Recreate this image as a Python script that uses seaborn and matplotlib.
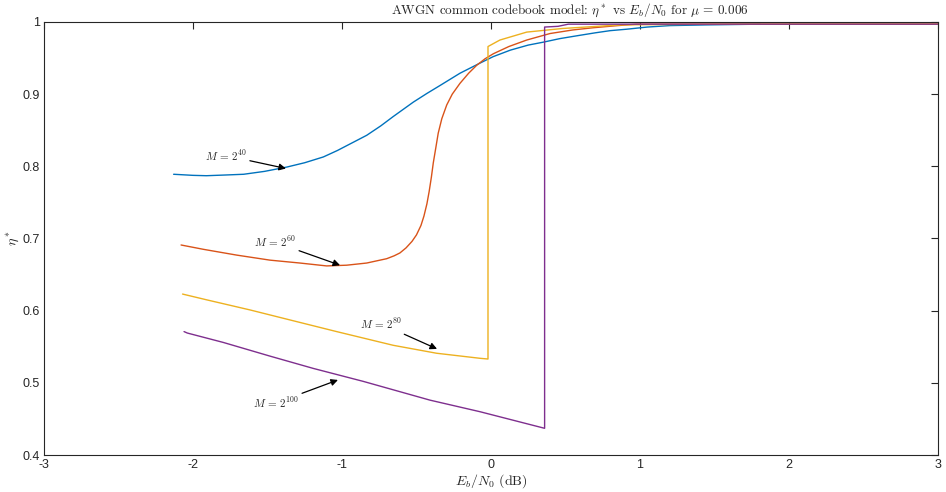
import matplotlib
matplotlib.use("Agg")
import matplotlib.pyplot as plt
import seaborn as sns
import pandas as pd

sns.set_style("white")
plt.rcParams['font.family'] = ['Liberation Sans', 'DejaVu Sans']
plt.rcParams['mathtext.fontset'] = 'cm'

# M = 2^40 (blue)
x40 = [-2.13, -2.0, -1.91, -1.78, -1.66, -1.52, -1.37, -1.25, -1.125, -1.03, -0.946,
       -0.834, -0.74, -0.656, -0.521, -0.43, -0.342, -0.208, -0.074, 0.015, 0.13,
       0.25, 0.35, 0.463, 0.58, 0.7, 0.8, 0.911, 1.05, 1.2, 1.447, 1.805]
y40 = [0.789, 0.7875, 0.787, 0.788, 0.789, 0.793, 0.799, 0.805, 0.813, 0.822, 0.831,
       0.843, 0.856, 0.869, 0.889, 0.901, 0.912, 0.929, 0.943, 0.952, 0.961,
       0.968, 0.972, 0.977, 0.981, 0.985, 0.988, 0.990, 0.993, 0.995, 0.996, 0.997]

# M = 2^60 (red)
x60 = [-2.08, -1.93, -1.707, -1.483, -1.282, -1.103, -0.969, -0.834, -0.745, -0.70,
       -0.65, -0.611, -0.57, -0.53, -0.50, -0.47, -0.45, -0.43, -0.415, -0.40,
       -0.387, -0.37, -0.354, -0.33, -0.297, -0.26, -0.208, -0.15, -0.096, -0.04,
       0.016, 0.12, 0.24, 0.396, 0.55, 0.685, 0.85, 0.978, 1.5, 2.0, 3.0]
y60 = [0.691, 0.685, 0.677, 0.670, 0.666, 0.662, 0.663, 0.666, 0.670, 0.672,
       0.676, 0.680, 0.687, 0.696, 0.705, 0.718, 0.731, 0.748, 0.765, 0.785,
       0.805, 0.826, 0.846, 0.866, 0.885, 0.900, 0.915, 0.929, 0.940, 0.949,
       0.956, 0.966, 0.975, 0.984, 0.989, 0.992, 0.995, 0.997, 0.997, 0.997, 0.997]

# M = 2^80 (yellow)
x80 = [-2.07, -1.908, -1.617, -1.327, -1.036, -0.656, -0.365, -0.074, -0.02,
       -0.02, 0.06, 0.24, 0.48, 0.87, 1.5, 3.0]
y80 = [0.623, 0.615, 0.601, 0.586, 0.571, 0.552, 0.541, 0.534, 0.533,
       0.966, 0.975, 0.986, 0.991, 0.996, 0.997, 0.997]

# M = 2^100 (purple)
x100 = [-2.06, -2.038, -1.797, -1.483, -1.193, -0.857, -0.409, -0.074, 0.36,
        0.36, 0.45, 0.52, 1.0, 3.0]
y100 = [0.571, 0.569, 0.556, 0.537, 0.520, 0.502, 0.476, 0.460, 0.437,
        0.993, 0.994, 0.997, 0.997, 0.997]

labels = [r"$M\,=\,2^{40}$", r"$M\,=\,2^{60}$", r"$M\,=\,2^{80}$", r"$M\,=\,2^{100}$"]
colors = ["#0072BD", "#D95319", "#EDB120", "#7E2F8E"]
# annotation (text anchor, arrow head) in data coords
ann_text = [(-1.64, 0.815), (-1.31, 0.695), (-0.60, 0.582), (-1.29, 0.472)]
ann_head = [(-1.376, 0.797), (-1.013, 0.663), (-0.362, 0.547), (-1.027, 0.504)]

series = [(x40, y40), (x60, y60), (x80, y80), (x100, y100)]

fig = plt.figure(figsize=(9.46, 4.92), dpi=100)
ax = fig.add_axes([0.0465, 0.0752, 0.945, 0.8801])

for (xs, ys), c in zip(series, colors):
    df = pd.DataFrame({"x": xs, "y": ys})
    sns.lineplot(data=df, x="x", y="y", ax=ax, color=c, sort=False,
                 estimator=None, linewidth=1.0)

for lab, (tx, ty), (hx, hy) in zip(labels, ann_text, ann_head):
    ax.annotate(lab, xy=(hx, hy), xytext=(tx, ty), fontsize=8, ha='right', va='center',
                color='#262626',
                arrowprops=dict(arrowstyle='-|>', color='black', lw=0.9,
                                mutation_scale=10, shrinkA=0, shrinkB=0))

ax.set_xlim(-3, 3)
ax.set_ylim(0.4, 1.0)
ax.set_xticks([-3, -2, -1, 0, 1, 2, 3])
ax.set_xticklabels(["-3", "-2", "-1", "0", "1", "2", "3"])
ax.set_yticks([0.4, 0.5, 0.6, 0.7, 0.8, 0.9, 1.0])
ax.set_yticklabels(["0.4", "0.5", "0.6", "0.7", "0.8", "0.9", "1"])
ax.tick_params(direction='in', length=5, width=0.8, top=True, right=True,
               labelsize=9, colors='#262626', pad=3)
for s in ax.spines.values():
    s.set_linewidth(0.8)
    s.set_color('#262626')

ax.text(0.588, 1.006, r"AWGN common codebook model: $\eta^*$ vs $E_b/N_0$ for $\mu\,=\,0.006$",
        transform=ax.transAxes, ha='center', va='bottom',
        fontsize=9.5, family='cmr10')
ax.set_xlabel(r"$E_b/N_0$ (dB)", fontsize=10, family='cmr10', labelpad=1)
ax.set_ylabel(r"$\eta^*$", fontsize=10, labelpad=1)

fig.savefig("out.png", dpi=100)
